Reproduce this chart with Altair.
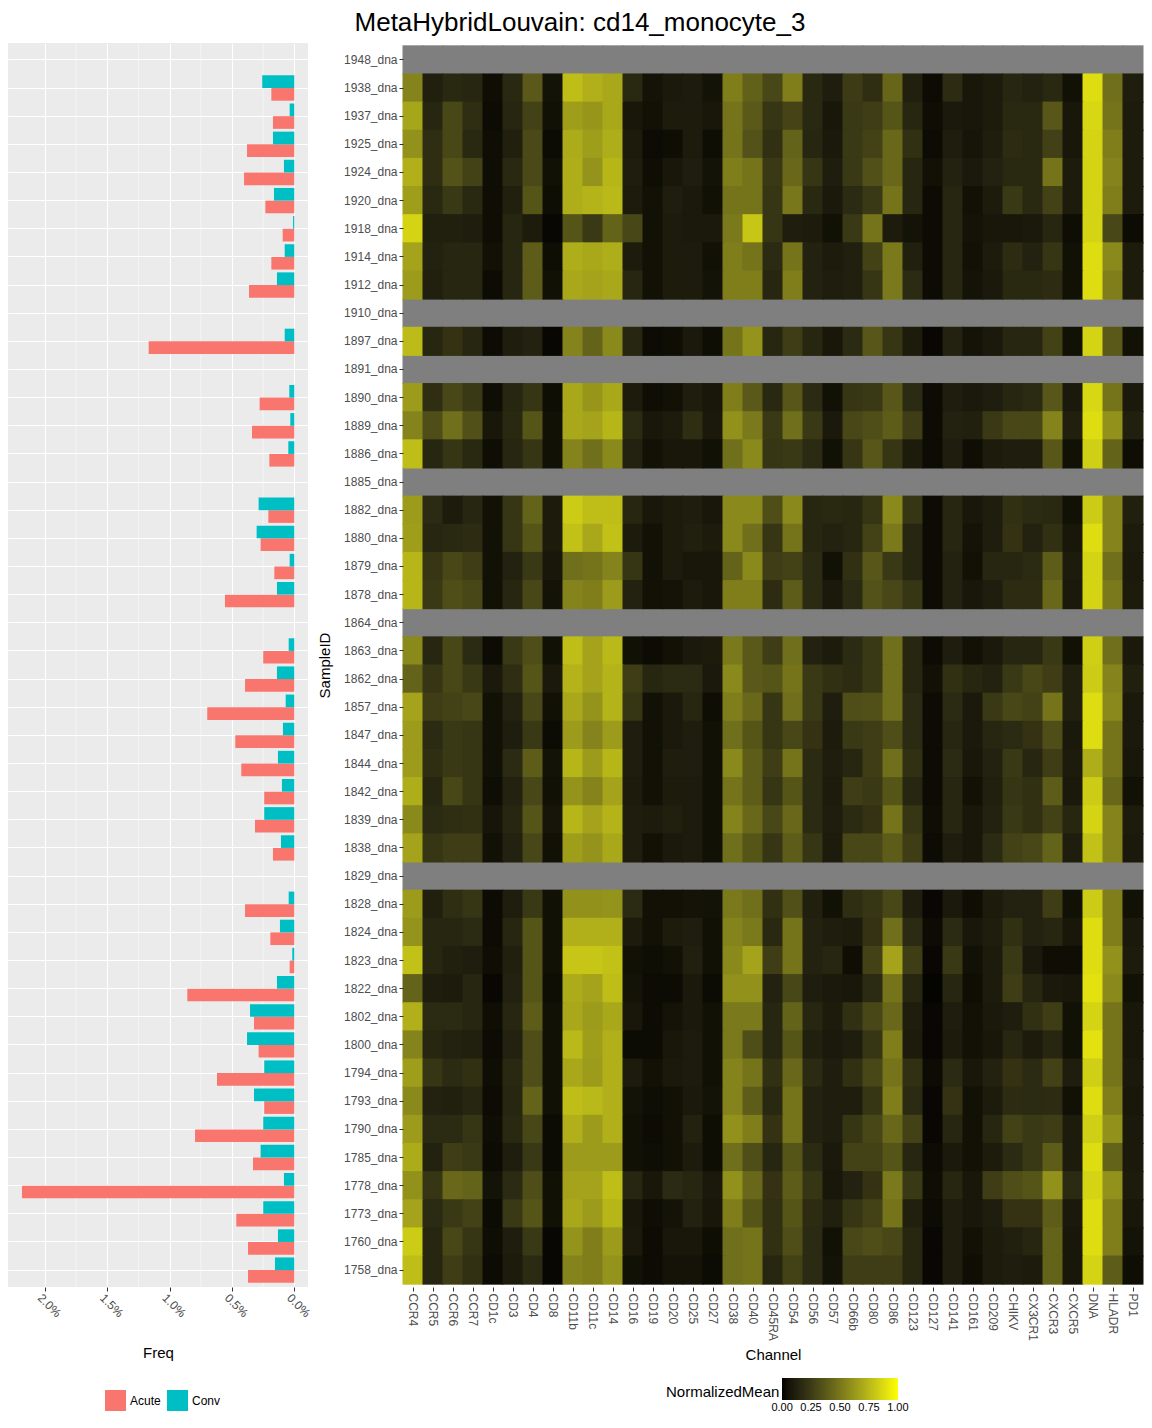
import altair as alt
import pandas as pd

title_text = "MetaHybridLouvain: cd14_monocyte_3"

samples = ["1948_dna", "1938_dna", "1937_dna", "1925_dna", "1924_dna", "1920_dna", "1918_dna",
           "1914_dna", "1912_dna", "1910_dna", "1897_dna", "1891_dna", "1890_dna", "1889_dna",
           "1886_dna", "1885_dna", "1882_dna", "1880_dna", "1879_dna", "1878_dna", "1864_dna",
           "1863_dna", "1862_dna", "1857_dna", "1847_dna", "1844_dna", "1842_dna", "1839_dna",
           "1838_dna", "1829_dna", "1828_dna", "1824_dna", "1823_dna", "1822_dna", "1802_dna",
           "1800_dna", "1794_dna", "1793_dna", "1790_dna", "1785_dna", "1778_dna", "1773_dna",
           "1760_dna", "1758_dna"]

channels = ["CCR4", "CCR5", "CCR6", "CCR7", "CD1c", "CD3", "CD4", "CD8", "CD11b", "CD11c", "CD14",
            "CD16", "CD19", "CD20", "CD25", "CD27", "CD38", "CD40", "CD45RA", "CD54", "CD56", "CD57",
            "CD66b", "CD80", "CD86", "CD123", "CD127", "CD141", "CD161", "CD209", "CHIKV", "CX3CR1",
            "CXCR3", "CXCR5", "DNA", "HLADR", "PD1"]

groups = ["Acute", "Conv"]

# frequency (%) per sample, None = no bar
acute = [None, .184, .171, .379, .403, .232, .093, .184, .363, None,
         1.168, None, .278, .339, .200, None, .208, .270, .160, .556,
         None, .249, .395, .698, .473, .425, .241, .315, .171, None,
         .395, .192, .037, .858, .323, .286, .620, .241, .796, .331,
         2.184, .465, .371, .371]
conv = [None, .257, .037, .171, .083, .163, .010, .077, .139, None,
        .077, None, .040, .032, .048, None, .286, .302, .037, .139,
        None, .045, .139, .069, .091, .131, .099, .241, .107, None,
        .045, .115, .016, .139, .355, .379, .241, .323, .249, .270,
        .083, .249, .131, .155]

freq_ticks = [0, 0.5, 1.0, 1.5, 2.0]
freq_minor = [0.25, 0.75, 1.25, 1.75]
# legend label positions (ends nudged inward by 0.001 so every label is centred on its value)
legend_values = [0.001, 0.25, 0.5, 0.75, 0.999]

# NormalizedMean per sample (channel order above); None = missing row
r1948 = None
r1938 = [.55, .12, .16, .15, .04, .16, .38, .06, .77, .72, .69, .16, .06, .09, .10, .06, .53, .41, .30, .53, .16, .11, .25, .19, .43, .12, .03, .18, .08, .10, .15, .13, .16, .05, .88, .47, .11]
r1937 = [.68, .15, .30, .19, .03, .15, .28, .05, .65, .62, .69, .08, .05, .10, .10, .08, .49, .38, .22, .29, .16, .08, .24, .26, .36, .15, .04, .09, .08, .10, .16, .16, .37, .08, .86, .49, .10]
r1925 = [.60, .19, .30, .16, .04, .12, .31, .03, .70, .65, .71, .10, .03, .04, .10, .04, .49, .35, .20, .42, .15, .09, .24, .28, .44, .20, .03, .11, .07, .11, .18, .16, .27, .08, .85, .53, .10]
r1924 = [.72, .19, .35, .28, .04, .16, .31, .05, .71, .61, .74, .11, .04, .08, .11, .06, .53, .49, .24, .44, .22, .11, .24, .34, .44, .15, .05, .13, .09, .13, .16, .16, .49, .10, .85, .55, .10]
r1920 = [.65, .16, .24, .16, .04, .12, .36, .04, .71, .73, .75, .10, .05, .11, .09, .05, .49, .49, .22, .50, .16, .09, .17, .24, .49, .15, .03, .15, .05, .10, .24, .16, .28, .10, .85, .53, .10]
r1918 = [.85, .12, .12, .11, .04, .15, .10, .02, .36, .24, .42, .30, .05, .10, .09, .09, .51, .80, .22, .11, .10, .05, .24, .49, .10, .06, .03, .15, .06, .08, .08, .09, .15, .04, .85, .30, .03]
r1914 = [.67, .13, .15, .15, .05, .15, .39, .04, .71, .69, .71, .10, .05, .10, .10, .05, .53, .49, .17, .49, .13, .10, .12, .28, .51, .12, .03, .15, .05, .10, .18, .13, .22, .05, .88, .57, .10]
r1912 = [.64, .12, .15, .15, .03, .15, .39, .05, .69, .67, .69, .15, .05, .10, .10, .06, .53, .53, .15, .53, .13, .11, .12, .22, .51, .17, .03, .15, .06, .09, .16, .16, .18, .05, .88, .53, .10]
r1910 = None
r1897 = [.76, .15, .21, .15, .03, .11, .13, .02, .55, .42, .57, .15, .03, .04, .09, .04, .49, .61, .15, .26, .15, .08, .17, .37, .22, .10, .02, .13, .06, .09, .15, .15, .28, .05, .85, .38, .05]
r1891 = None
r1890 = [.64, .19, .30, .24, .04, .15, .22, .04, .69, .62, .69, .10, .04, .05, .11, .08, .53, .38, .16, .37, .17, .05, .22, .24, .37, .17, .03, .11, .09, .11, .15, .17, .37, .09, .86, .49, .09]
r1889 = [.55, .33, .47, .34, .08, .16, .36, .05, .69, .67, .74, .17, .08, .10, .19, .09, .60, .51, .24, .47, .24, .09, .30, .33, .39, .26, .03, .13, .12, .24, .30, .30, .55, .12, .88, .60, .12]
r1886 = [.77, .15, .22, .16, .04, .15, .22, .05, .55, .47, .57, .13, .05, .08, .08, .05, .47, .57, .22, .24, .17, .05, .22, .37, .22, .10, .03, .11, .04, .10, .11, .11, .37, .05, .83, .42, .04]
r1885 = None
r1882 = [.64, .17, .10, .15, .05, .22, .42, .10, .82, .77, .77, .15, .08, .10, .11, .08, .57, .57, .33, .57, .15, .16, .15, .22, .57, .22, .03, .15, .08, .11, .20, .17, .16, .05, .82, .55, .12]
r1880 = [.65, .15, .16, .18, .05, .22, .36, .10, .78, .69, .78, .10, .05, .10, .12, .10, .57, .47, .22, .49, .15, .13, .15, .28, .51, .15, .03, .15, .06, .11, .21, .13, .20, .08, .88, .55, .10]
r1879 = [.74, .22, .30, .26, .05, .13, .24, .08, .47, .49, .55, .22, .05, .10, .08, .08, .42, .57, .26, .28, .17, .05, .20, .37, .24, .15, .03, .13, .05, .15, .15, .17, .39, .10, .85, .47, .09]
r1878 = [.74, .24, .33, .30, .05, .15, .30, .06, .55, .53, .64, .13, .05, .06, .10, .08, .53, .53, .18, .39, .17, .09, .17, .35, .30, .22, .03, .13, .08, .11, .18, .18, .44, .09, .85, .51, .10]
r1864 = None
r1863 = [.57, .15, .30, .17, .03, .24, .33, .05, .77, .67, .75, .05, .03, .05, .09, .10, .51, .38, .26, .47, .13, .10, .17, .24, .47, .15, .03, .11, .05, .09, .15, .15, .24, .05, .83, .47, .09]
r1862 = [.42, .22, .30, .24, .09, .19, .36, .09, .73, .67, .73, .26, .15, .17, .17, .09, .57, .38, .36, .49, .24, .20, .18, .24, .47, .15, .05, .20, .15, .13, .24, .30, .26, .12, .82, .55, .12]
r1857 = [.67, .26, .28, .30, .05, .13, .30, .05, .69, .61, .73, .22, .05, .09, .15, .04, .53, .44, .22, .47, .24, .11, .33, .34, .47, .17, .03, .17, .09, .24, .30, .28, .49, .12, .88, .57, .09]
r1847 = [.64, .17, .24, .22, .05, .11, .24, .03, .64, .55, .64, .11, .05, .09, .11, .05, .47, .36, .22, .30, .21, .10, .24, .26, .33, .17, .03, .15, .09, .15, .17, .21, .33, .09, .88, .49, .09]
r1844 = [.64, .19, .24, .22, .05, .17, .39, .06, .74, .64, .74, .11, .05, .11, .11, .05, .57, .39, .26, .49, .17, .11, .15, .26, .47, .20, .03, .17, .08, .13, .24, .15, .26, .10, .71, .49, .08]
r1842 = [.71, .15, .30, .22, .04, .13, .30, .05, .61, .55, .67, .10, .05, .10, .10, .05, .49, .39, .22, .36, .17, .10, .26, .24, .36, .15, .03, .15, .05, .12, .22, .20, .39, .09, .82, .44, .05]
r1839 = [.57, .17, .19, .20, .07, .15, .36, .07, .74, .67, .73, .11, .10, .12, .10, .05, .55, .44, .30, .44, .17, .11, .17, .21, .49, .22, .04, .15, .08, .13, .24, .20, .28, .15, .85, .55, .10]
r1838 = [.67, .22, .26, .26, .05, .13, .30, .05, .65, .61, .69, .11, .05, .09, .10, .05, .47, .36, .22, .39, .22, .10, .30, .30, .39, .26, .03, .11, .08, .17, .28, .30, .42, .11, .78, .55, .09]
r1829 = None
r1828 = [.64, .12, .19, .22, .03, .11, .24, .05, .60, .60, .61, .17, .05, .05, .06, .06, .51, .47, .20, .34, .12, .05, .19, .22, .30, .11, .02, .09, .04, .10, .13, .13, .26, .05, .82, .53, .05]
r1824 = [.61, .15, .15, .17, .03, .15, .36, .05, .72, .72, .72, .10, .05, .10, .11, .05, .55, .51, .16, .49, .13, .11, .10, .21, .47, .17, .03, .17, .08, .11, .20, .13, .15, .08, .88, .53, .09]
r1823 = [.78, .15, .12, .11, .04, .12, .36, .05, .80, .80, .78, .05, .04, .05, .12, .05, .57, .67, .26, .49, .13, .15, .04, .28, .67, .26, .02, .24, .05, .10, .24, .09, .04, .04, .88, .60, .10]
r1822 = [.42, .11, .10, .15, .02, .13, .36, .04, .70, .67, .77, .06, .03, .03, .09, .03, .60, .60, .13, .30, .11, .09, .08, .17, .49, .15, .01, .15, .04, .10, .26, .15, .09, .08, .90, .57, .05]
r1802 = [.72, .17, .17, .15, .04, .15, .39, .05, .69, .64, .69, .08, .03, .06, .09, .05, .51, .51, .15, .42, .15, .10, .20, .30, .44, .11, .02, .11, .05, .09, .11, .20, .26, .05, .85, .49, .08]
r1800 = [.55, .15, .13, .12, .03, .13, .33, .05, .75, .65, .72, .03, .03, .08, .10, .05, .51, .33, .15, .36, .12, .09, .11, .22, .53, .10, .02, .10, .05, .08, .15, .10, .15, .05, .90, .49, .08]
r1794 = [.65, .22, .17, .20, .04, .16, .33, .05, .69, .64, .72, .10, .05, .09, .10, .05, .55, .49, .20, .44, .17, .11, .20, .30, .49, .20, .03, .17, .08, .13, .21, .17, .28, .11, .83, .49, .09]
r1793 = [.57, .13, .12, .15, .03, .15, .42, .05, .77, .75, .72, .06, .04, .05, .09, .06, .55, .39, .16, .49, .13, .11, .11, .22, .53, .17, .02, .21, .05, .10, .18, .17, .18, .05, .88, .53, .08]
r1790 = [.64, .17, .17, .22, .04, .16, .30, .03, .72, .64, .72, .05, .03, .05, .13, .04, .60, .53, .21, .49, .13, .11, .22, .30, .44, .28, .02, .15, .05, .15, .28, .24, .26, .10, .83, .60, .09]
r1785 = [.70, .13, .26, .24, .03, .11, .24, .03, .64, .64, .64, .05, .04, .05, .10, .04, .47, .33, .15, .36, .17, .09, .28, .28, .36, .15, .03, .09, .05, .10, .17, .24, .39, .10, .88, .42, .09]
r1778 = [.60, .22, .44, .42, .06, .17, .33, .05, .67, .67, .77, .15, .08, .17, .15, .09, .60, .44, .21, .39, .22, .08, .13, .21, .51, .24, .04, .15, .08, .26, .33, .36, .60, .17, .85, .60, .10]
r1773 = [.67, .17, .24, .28, .03, .24, .36, .05, .69, .64, .74, .08, .04, .06, .13, .08, .53, .36, .20, .36, .18, .12, .22, .28, .49, .12, .03, .11, .08, .11, .21, .21, .39, .09, .88, .53, .08]
r1760 = [.82, .15, .30, .22, .04, .11, .24, .02, .61, .53, .64, .09, .03, .08, .08, .04, .47, .49, .20, .33, .17, .05, .30, .33, .30, .15, .02, .11, .05, .10, .12, .15, .42, .08, .88, .53, .06]
r1758 = [.77, .15, .26, .20, .03, .10, .17, .02, .55, .53, .61, .05, .03, .06, .06, .03, .47, .49, .15, .28, .17, .06, .26, .26, .26, .15, .02, .11, .04, .10, .11, .10, .42, .08, .85, .39, .04]

heat_rows = [r1948, r1938, r1937, r1925, r1924, r1920, r1918, r1914, r1912, r1910, r1897, r1891,
             r1890, r1889, r1886, r1885, r1882, r1880, r1879, r1878, r1864, r1863, r1862, r1857,
             r1847, r1844, r1842, r1839, r1838, r1829, r1828, r1824, r1823, r1822, r1802, r1800,
             r1794, r1793, r1790, r1785, r1778, r1773, r1760, r1758]

# ---------- tables ----------
heat_recs = []
for s, row in zip(samples, heat_rows):
    for j, ch in enumerate(channels):
        heat_recs.append({"SampleID": s, "Channel": ch,
                          "NormalizedMean": None if row is None else row[j]})
heat_df = pd.DataFrame(heat_recs)

bar_recs = []
for s, a, c in zip(samples, acute, conv):
    if a is not None:
        bar_recs.append({"SampleID": s, "Group": "Acute", "Freq": a})
    if c is not None:
        bar_recs.append({"SampleID": s, "Group": "Conv", "Freq": c})
bar_df = pd.DataFrame(bar_recs)
minor_df = pd.DataFrame({"Freq": freq_minor})
title_df = pd.DataFrame({"label": [title_text]})

FONT = "Liberation Sans"
PANEL_H = 1244
HEAT_W = 740
TILE_W = HEAT_W / len(channels) + 1.0          # 1px overlap hides anti-alias seams
TILE_H = PANEL_H / (len(samples) + 0.2) + 1.0

y_scale = alt.Scale(domain=samples, paddingInner=0, paddingOuter=0.1)
x_freq_scale = alt.Scale(domain=[-0.11, 2.296], reverse=True, nice=False, zero=False)

freq_axis = alt.Axis(values=freq_ticks, labelExpr="format(datum.value, '.1f') + '%'",
                     labelAngle=45, labelAlign="center", labelBaseline="middle",
                     labelPadding=14, labelOffset=4, tickSize=4, tickColor="#333333",
                     labelColor="#4D4D4D", labelFontSize=12, domain=False, grid=True,
                     gridColor="white", gridWidth=1.1, title="Freq", titleFontSize=15,
                     titleFontWeight="normal", titleColor="black", titleY=70,
                     titleBaseline="alphabetic", labelFlush=False, labelOverlap=False)

minor = alt.Chart(minor_df).mark_rule(color="white", strokeWidth=0.5).encode(
    x=alt.X("Freq:Q", scale=x_freq_scale, axis=freq_axis)
)

bars = alt.Chart(bar_df).mark_bar().encode(
    y=alt.Y("SampleID:N", scale=y_scale,
            axis=alt.Axis(labels=False, ticks=False, domain=False, title=None, grid=True,
                          gridColor="white", gridWidth=1.1, bandPosition=0.5,
                          minExtent=0, maxExtent=0)),
    yOffset=alt.YOffset("Group:N", scale=alt.Scale(domain=["Conv", "Acute"], paddingInner=0,
                                                  paddingOuter=0.111)),
    x=alt.X("Freq:Q", scale=x_freq_scale, axis=freq_axis),
    color=alt.Color("Group:N", scale=alt.Scale(domain=groups, range=["#F8766D", "#00BFC4"]),
                    legend=alt.Legend(orient="none", legendX=97, legendY=1347,
                                      direction="horizontal", title=None, symbolType="square",
                                      symbolSize=441, symbolStrokeWidth=0, labelFontSize=12,
                                      labelColor="black", labelOffset=4, columnPadding=6,
                                      padding=0)),
)

left = alt.layer(minor, bars).properties(
    width=300, height=PANEL_H,
    view=alt.ViewBackground(fill="#EBEBEB", stroke=None)
)

x_ch = alt.X("Channel:N", scale=alt.Scale(domain=channels, paddingInner=0, paddingOuter=0),
             axis=alt.Axis(labelAngle=90, labelPadding=2, tickSize=4, tickColor="#333333",
                           labelColor="#4D4D4D", labelFontSize=12, domain=False, grid=False,
                           title="Channel", titleFontSize=15, titleFontWeight="normal",
                           titleColor="black", titleY=72, titleBaseline="alphabetic"))
y_s = alt.Y("SampleID:N", scale=y_scale,
            axis=alt.Axis(labelPadding=2, tickSize=4, tickColor="#333333", labelColor="#4D4D4D",
                          labelFontSize=12, domain=False, grid=False, title="SampleID",
                          titleFontSize=15, titleFontWeight="normal", titleColor="black",
                          titlePadding=11))

heat_color_scale = alt.Scale(domain=[0, 1], range=["#000000", "#FFFF00"], interpolate="lab")

base = alt.Chart(heat_df)
na_tiles = base.transform_filter("!isValid(datum.NormalizedMean)").mark_rect(
    color="#7F7F7F", width=TILE_W, height=TILE_H).encode(x=x_ch, y=y_s)
tiles = base.transform_filter("isValid(datum.NormalizedMean)").mark_rect(
    width=TILE_W, height=TILE_H).encode(
    x=x_ch, y=y_s,
    color=alt.Color("NormalizedMean:Q", scale=heat_color_scale,
                    legend=alt.Legend(type="gradient", orient="none", legendX=263, legendY=1335,
                                      direction="horizontal", title="NormalizedMean",
                                      titleOrient="left", titleAnchor="end",
                                      titleFontSize=15, titleFontWeight="normal",
                                      titleColor="black", titlePadding=2,
                                      gradientLength=116, gradientThickness=22,
                                      gradientStrokeWidth=0, labelFontSize=11,
                                      labelColor="black", values=legend_values,
                                      labelOverlap=False, labelAlign="center",
                                      labelOffset=2, format=".2f", padding=0)),
)

# chart title, centred over the whole figure (heat view starts ~403px from the page edge)
title_mark = alt.Chart(title_df).mark_text(
    fontSize=26, font=FONT, align="center", baseline="alphabetic", color="black"
).encode(text="label:N", x=alt.value(177), y=alt.value(-12))

heat = alt.layer(na_tiles, tiles, title_mark).properties(width=HEAT_W, height=PANEL_H)

chart = alt.hconcat(left, heat, spacing=4).resolve_scale(color="independent").properties(
    padding={"left": 0, "top": 2, "right": 0, "bottom": 0},
).configure(font=FONT).configure_view(stroke=None)

chart.save("out.html", embed_options={"renderer": "svg", "actions": False})
